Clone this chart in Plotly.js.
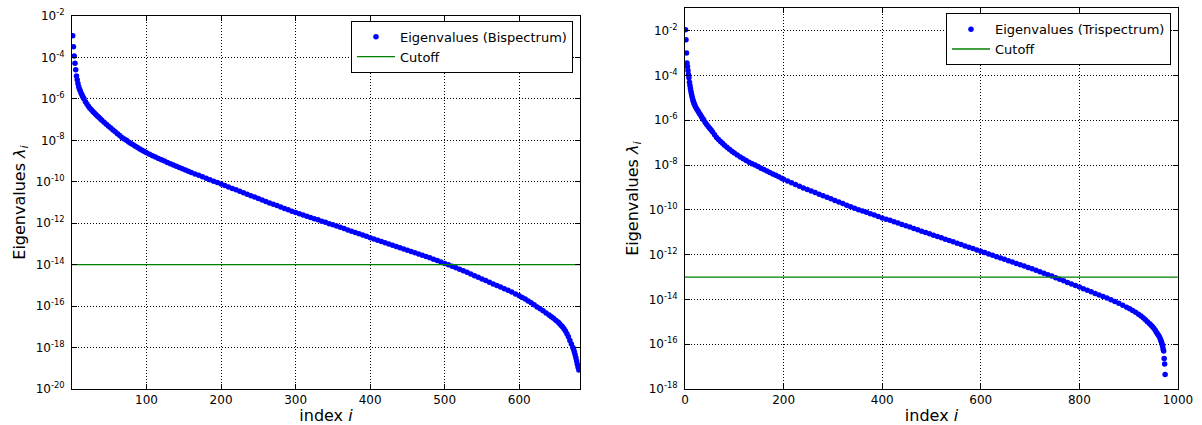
<!DOCTYPE html>
<html>
<head>
<meta charset="utf-8">
<script src="https://cdn.plot.ly/plotly-3.0.1.min.js"></script>
<style>
  html, body { margin: 0; padding: 0; background: #fff; }
  #chart { width: 1202px; height: 425px; }
</style>
</head>
<body>
<div id="chart"></div>
<script>
// ---------- Left panel: Bispectrum eigenvalues ----------
const bispIndex = [
  1,2,3,4,5,6,7,8,9,10,11,12,13,14,15,16,18,20,22,24,26,28,30,32,34,36,38,40,
  43,46,49,52,55,58,61,64,67,70,73,76,79,82,85,88,91,94,97,100,
  104,108,112,116,120,124,128,132,136,140,144,148,152,156,160,
  165,170,175,180,185,190,195,200,205,210,215,220,225,230,235,240,245,250,255,260,
  265,270,275,280,285,290,295,300,305,310,315,320,325,330,335,340,345,350,355,360,
  365,370,375,380,385,390,395,400,405,410,415,420,425,430,435,440,445,450,455,460,
  465,470,475,480,485,490,495,500,505,510,515,520,525,530,535,540,545,550,555,560,
  565,570,575,580,585,590,595,600,604,608,612,616,620,624,628,632,636,640,
  643,646,649,652,654,656,658,660,662,664,666,668,670,672,673,674,675,676,677,678,679,680
];
const bispValues = [
  1.12e-3,3.31e-4,1.17e-4,5.25e-5,2.51e-5,1.26e-5,8.32e-6,5.50e-6,3.80e-6,3.02e-6,2.45e-6,2.00e-6,1.66e-6,1.38e-6,1.17e-6,1.00e-6,
  7.24e-7,5.62e-7,4.37e-7,3.55e-7,2.95e-7,2.45e-7,2.09e-7,1.78e-7,1.51e-7,1.29e-7,1.10e-7,9.33e-8,
  7.41e-8,5.89e-8,4.79e-8,3.89e-8,3.16e-8,2.57e-8,2.09e-8,1.70e-8,1.38e-8,1.17e-8,1.00e-8,8.32e-9,7.08e-9,6.03e-9,5.13e-9,4.47e-9,3.80e-9,3.31e-9,2.88e-9,2.51e-9,
  2.14e-9,1.82e-9,1.55e-9,1.32e-9,1.15e-9,1.00e-9,8.51e-10,7.41e-10,6.46e-10,5.62e-10,4.90e-10,4.27e-10,3.72e-10,3.24e-10,2.82e-10,
  2.40e-10,2.04e-10,1.74e-10,1.48e-10,1.26e-10,1.07e-10,9.12e-11,7.76e-11,6.61e-11,5.62e-11,4.79e-11,4.07e-11,3.47e-11,2.95e-11,2.51e-11,2.14e-11,1.82e-11,1.55e-11,1.32e-11,1.12e-11,
  9.55e-12,8.13e-12,7.08e-12,6.03e-12,5.13e-12,4.47e-12,3.80e-12,3.31e-12,2.88e-12,2.51e-12,2.19e-12,1.91e-12,1.66e-12,1.45e-12,1.26e-12,1.10e-12,9.55e-13,8.32e-13,7.24e-13,6.31e-13,
  5.50e-13,4.68e-13,4.07e-13,3.55e-13,3.09e-13,2.69e-13,2.34e-13,2.00e-13,1.74e-13,1.51e-13,1.32e-13,1.15e-13,1.00e-13,8.71e-14,7.59e-14,6.61e-14,5.75e-14,5.01e-14,4.37e-14,3.80e-14,
  3.31e-14,2.88e-14,2.51e-14,2.14e-14,1.82e-14,1.58e-14,1.35e-14,1.15e-14,9.77e-15,8.32e-15,7.08e-15,6.03e-15,5.13e-15,4.27e-15,3.55e-15,2.95e-15,2.45e-15,2.04e-15,1.70e-15,1.41e-15,
  1.17e-15,9.77e-16,8.32e-16,6.92e-16,5.75e-16,4.79e-16,3.89e-16,3.16e-16,2.63e-16,2.19e-16,1.78e-16,1.45e-16,1.17e-16,9.12e-17,7.41e-17,5.89e-17,4.68e-17,3.72e-17,
  3.09e-17,2.57e-17,2.09e-17,1.70e-17,1.45e-17,1.20e-17,1.00e-17,8.13e-18,6.31e-18,4.68e-18,3.31e-18,2.19e-18,1.48e-18,1.00e-18,8.13e-19,6.03e-19,4.47e-19,3.24e-19,2.24e-19,1.55e-19,1.12e-19,8.32e-20
];
const bispCutoff = 1e-14;
const bispXRange = [0, 681.5];
const bispYRangeExp = [-20, -2];
const bispXTicks = [100, 200, 300, 400, 500, 600];
const bispYTicks = [1e-20, 1e-18, 1e-16, 1e-14, 1e-12, 1e-10, 1e-8, 1e-6, 1e-4, 1e-2];
const bispYTickText = ['10<sup>-20</sup>','10<sup>-18</sup>','10<sup>-16</sup>','10<sup>-14</sup>','10<sup>-12</sup>','10<sup>-10</sup>','10<sup>-8</sup>','10<sup>-6</sup>','10<sup>-4</sup>','10<sup>-2</sup>'];

// ---------- Right panel: Trispectrum eigenvalues ----------
const trispIndex = [
  1,2,3,4,5,6,7,8,9,10,11,12,13,14,15,16,17,18,19,20,22,24,26,28,30,32,34,36,38,
  41,44,47,50,53,56,60,64,68,72,76,80,85,90,95,100,106,112,118,124,130,136,142,148,154,160,166,172,178,184,190,196,
  200,208,216,224,232,240,248,256,264,272,280,288,296,304,312,320,328,336,344,352,360,368,376,384,392,
  400,408,416,424,432,440,448,456,464,472,480,488,496,504,512,520,528,536,544,552,560,568,576,584,592,
  600,608,616,624,632,640,648,656,664,672,680,688,696,704,712,720,728,736,744,752,760,768,776,784,792,
  800,808,816,824,832,840,848,856,864,872,880,888,896,902,908,914,920,925,930,934,938,942,945,948,951,954,956,958,960,962,964,965,966,967,968,969,970,971,972,973,974
];
const trispValues = [
  1.10e-2,3.89e-3,1.02e-3,3.63e-4,2.51e-4,1.66e-4,1.10e-4,7.94e-5,5.01e-5,3.55e-5,2.63e-5,2.00e-5,1.51e-5,1.20e-5,9.77e-6,8.13e-6,6.92e-6,5.89e-6,5.13e-6,4.57e-6,3.72e-6,3.09e-6,2.63e-6,2.24e-6,1.91e-6,1.62e-6,1.38e-6,1.17e-6,1.02e-6,
  7.94e-7,6.46e-7,5.25e-7,4.37e-7,3.63e-7,3.02e-7,2.24e-7,1.70e-7,1.38e-7,1.12e-7,9.33e-8,7.76e-8,6.31e-8,5.13e-8,4.17e-8,3.47e-8,2.82e-8,2.29e-8,1.91e-8,1.58e-8,1.35e-8,1.15e-8,1.00e-8,8.51e-9,7.24e-9,6.31e-9,5.37e-9,4.68e-9,3.98e-9,3.47e-9,3.02e-9,2.57e-9,
  2.34e-9,1.95e-9,1.62e-9,1.35e-9,1.12e-9,9.55e-10,8.13e-10,6.92e-10,5.89e-10,5.01e-10,4.27e-10,3.63e-10,3.09e-10,2.63e-10,2.24e-10,1.91e-10,1.62e-10,1.38e-10,1.17e-10,1.02e-10,8.91e-11,7.76e-11,6.76e-11,5.89e-11,5.01e-11,
  4.37e-11,3.80e-11,3.39e-11,2.95e-11,2.57e-11,2.24e-11,1.95e-11,1.70e-11,1.48e-11,1.29e-11,1.12e-11,9.77e-12,8.51e-12,7.41e-12,6.46e-12,5.62e-12,4.90e-12,4.27e-12,3.72e-12,3.24e-12,2.82e-12,2.45e-12,2.14e-12,1.86e-12,1.62e-12,
  1.41e-12,1.23e-12,1.07e-12,9.33e-13,8.13e-13,7.08e-13,6.17e-13,5.37e-13,4.68e-13,4.07e-13,3.55e-13,3.09e-13,2.69e-13,2.34e-13,2.00e-13,1.74e-13,1.48e-13,1.26e-13,1.10e-13,9.33e-14,7.94e-14,6.76e-14,5.75e-14,4.90e-14,4.17e-14,
  3.55e-14,3.02e-14,2.57e-14,2.19e-14,1.86e-14,1.58e-14,1.35e-14,1.15e-14,9.77e-15,8.13e-15,6.76e-15,5.50e-15,4.47e-15,3.80e-15,3.24e-15,2.69e-15,2.19e-15,1.82e-15,1.48e-15,1.23e-15,1.02e-15,8.51e-16,7.24e-16,6.17e-16,5.13e-16,4.17e-16,3.55e-16,3.02e-16,2.57e-16,2.19e-16,1.78e-16,1.55e-16,1.35e-16,1.15e-16,9.77e-17,7.94e-17,6.03e-17,5.01e-17,2.29e-17,1.32e-17,4.47e-18
];
const trispCutoff = 1e-13;
const trispXRange = [0, 1000];
const trispYRangeExp = [-18, -1];
const trispXTicks = [0, 200, 400, 600, 800, 1000];
const trispYTicks = [1e-18, 1e-16, 1e-14, 1e-12, 1e-10, 1e-8, 1e-6, 1e-4, 1e-2];
const trispYTickText = ['10<sup>-18</sup>','10<sup>-16</sup>','10<sup>-14</sup>','10<sup>-12</sup>','10<sup>-10</sup>','10<sup>-8</sup>','10<sup>-6</sup>','10<sup>-4</sup>','10<sup>-2</sup>'];

// ---------- Labels ----------
const seriesNames = ['Eigenvalues (Bispectrum)', 'Eigenvalues (Trispectrum)'];
const cutoffName = 'Cutoff';
const xTitle = 'index <i>i</i>';
const yTitle = 'Eigenvalues <i>λ<sub>i</sub></i>';

const FONT = 'DejaVu Sans, Liberation Sans, sans-serif';
const BLUE = '#0000ff';
const GREEN = '#008000';

const traces = [
  { x: bispIndex, y: bispValues, type: 'scatter', mode: 'markers', name: seriesNames[0],
    marker: { color: BLUE, size: 5.5, line: { width: 0 } }, xaxis: 'x', yaxis: 'y', legend: 'legend' },
  { x: bispXRange, y: [bispCutoff, bispCutoff], type: 'scatter', mode: 'lines', name: cutoffName,
    line: { color: GREEN, width: 1.3 }, xaxis: 'x', yaxis: 'y', legend: 'legend' },
  { x: trispIndex, y: trispValues, type: 'scatter', mode: 'markers', name: seriesNames[1],
    marker: { color: BLUE, size: 5.5, line: { width: 0 } }, xaxis: 'x2', yaxis: 'y2', legend: 'legend2' },
  { x: trispXRange, y: [trispCutoff, trispCutoff], type: 'scatter', mode: 'lines', name: cutoffName,
    line: { color: GREEN, width: 1.3 }, xaxis: 'x2', yaxis: 'y2', legend: 'legend2' }
];

function xAxis(domain, range, ticks) {
  return {
    domain: domain, range: range, type: 'linear', tickmode: 'array', tickvals: ticks,
    showline: true, linecolor: '#000', linewidth: 1, mirror: 'allticks',
    ticks: 'inside', ticklen: 5, tickcolor: '#000', tickwidth: 1,
    showgrid: true, gridcolor: '#000', gridwidth: 1, griddash: '1px,2px',
    zeroline: false, tickfont: { family: FONT, size: 12, color: '#000' },
    title: { text: xTitle, font: { family: FONT, size: 16, color: '#000' }, standoff: 4 },
    automargin: false
  };
}
function yAxis(domain, rangeExp, ticks, text, anchor) {
  return {
    domain: domain, type: 'log', range: rangeExp, tickmode: 'array', tickvals: ticks, ticktext: text,
    showline: true, linecolor: '#000', linewidth: 1, mirror: 'allticks',
    ticks: 'inside', ticklen: 5, tickcolor: '#000', tickwidth: 1,
    showgrid: true, gridcolor: '#000', gridwidth: 1, griddash: '1px,2px',
    zeroline: false, tickfont: { family: FONT, size: 12, color: '#000' },
    ticklabelstandoff: 4,
    title: { text: yTitle, font: { family: FONT, size: 16, color: '#000' }, standoff: 6 },
    automargin: false, anchor: anchor
  };
}

const layout = {
  width: 1202, height: 425,
  margin: { l: 0, r: 0, t: 0, b: 0 },
  paper_bgcolor: '#fff', plot_bgcolor: '#fff',
  font: { family: FONT, color: '#000' },
  showlegend: true,
  xaxis: Object.assign(xAxis([0.0599, 0.4825], bispXRange, bispXTicks), { anchor: 'y' }),
  yaxis: yAxis([0.0847, 0.9624], bispYRangeExp, bispYTicks, bispYTickText, 'x'),
  xaxis2: Object.assign(xAxis([0.5699, 0.9800], trispXRange, trispXTicks), { anchor: 'y2' }),
  yaxis2: yAxis([0.0847, 0.9805], trispYRangeExp, trispYTicks, trispYTickText, 'x2'),
  legend: {
    x: 0.4767, y: 0.951, xanchor: 'right', yanchor: 'top', xref: 'paper', yref: 'paper',
    bgcolor: '#fff', bordercolor: '#000', borderwidth: 1,
    font: { family: FONT, size: 13, color: '#000' }, itemwidth: 38, tracegroupgap: 0
  },
  legend2: {
    x: 0.9742, y: 0.969, xanchor: 'right', yanchor: 'top', xref: 'paper', yref: 'paper',
    bgcolor: '#fff', bordercolor: '#000', borderwidth: 1,
    font: { family: FONT, size: 13, color: '#000' }, itemwidth: 38, tracegroupgap: 0
  }
};

Plotly.newPlot('chart', traces, layout, { displayModeBar: false, staticPlot: true });
</script>
</body>
</html>
